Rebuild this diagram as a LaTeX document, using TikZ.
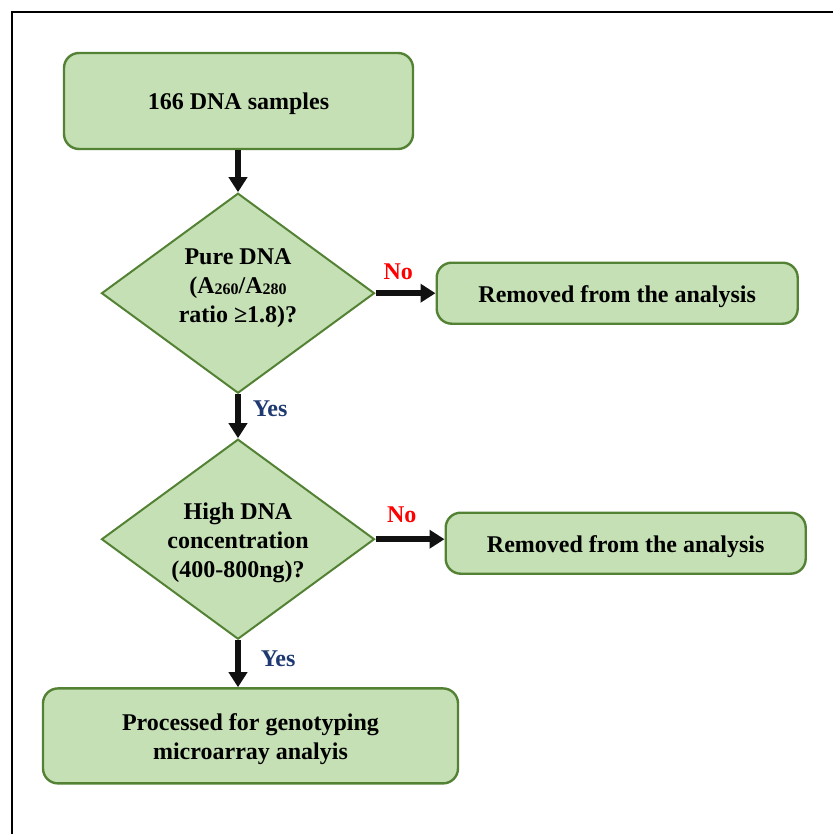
\documentclass[tikz,border=0pt]{standalone}
\usepackage{fontspec}
\setmainfont{Liberation Serif}
\usepackage{xcolor}
\usetikzlibrary{arrows.meta,positioning,shapes.geometric}
\definecolor{boxfill}{HTML}{C5E0B4}
\definecolor{boxline}{HTML}{548235}
\definecolor{yesblue}{HTML}{1F3A70}
\definecolor{arrowblack}{HTML}{111111}
\newcommand{\absub}[1]{\raisebox{-1.5pt}{\fontsize{16}{16}\selectfont #1}}

\begin{document}
\begin{tikzpicture}[x=1pt, y=-1pt,
    box/.style={draw=boxline, line width=2.4pt, fill=boxfill, rounded corners=15pt, align=center, inner sep=0pt, text height=23pt, font=\fontsize{24}{29}\selectfont\bfseries},
    decision/.style={diamond, draw=boxline, line width=2pt, fill=boxfill, inner sep=0pt, aspect=1.365, minimum width=273pt, minimum height=200pt},
    qtext/.style={align=center, inner sep=0pt, font=\fontsize{24}{29}\selectfont\bfseries},
    flow/.style={-{Triangle[length=15pt,width=18pt]}, line width=5.5pt, draw=arrowblack},
    nolab/.style={text=red, inner sep=3pt, font=\fontsize{24}{28}\selectfont\bfseries},
    yeslab/.style={text=yesblue, inner sep=4pt, font=\fontsize{24}{28}\selectfont\bfseries}
  ]
    \useasboundingbox (0,0) rectangle (832,834);
    \draw[line width=2pt] (12,12) rectangle (860,860);

    \node[box, minimum width=349pt, minimum height=96pt] (samples) at (238.5,101) {166 DNA samples};
    \node[decision, below=42pt of samples, xshift=-0.5pt,
      label={[qtext, yshift=5.5pt]center:Pure DNA\\(A\absub{260}/A\absub{280}\\ratio ≥1.8)?}] (pure) {};
    \node[box, minimum width=361pt, minimum height=61pt, right=60pt of pure] (rem1) {Removed from the analysis};
    \node[decision, below=44pt of pure,
      label={[qtext, yshift=-3.5pt]center:High DNA\\concentration\\(400-800ng)?}] (dna) {};
    \node[box, minimum width=360pt, minimum height=61pt, right=69pt of dna, yshift=-4pt] (rem2) {Removed from the analysis};
    \node[box, text height=52pt, minimum width=415pt, minimum height=95pt, below=47pt of dna, xshift=12.5pt] (proc) {Processed for genotyping\\microarray analyis};

    \draw[flow] (samples.south -| pure.north) -- (pure.north);
    \draw[flow] (pure.east) -- node[nolab, above, pos=0.38, yshift=8pt] {No} (pure.east -| rem1.west);
    \draw[flow] (pure.south) -- node[yeslab, right, xshift=8pt, yshift=7pt] {Yes} (dna.north);
    \draw[flow] (dna.east) -- node[nolab, above, pos=0.38, yshift=11pt] {No} (dna.east -| rem2.west);
    \draw[flow] (dna.south) -- node[yeslab, right, xshift=16pt, yshift=5pt] {Yes} (dna.south |- proc.north);
  \end{tikzpicture}
\end{document}
